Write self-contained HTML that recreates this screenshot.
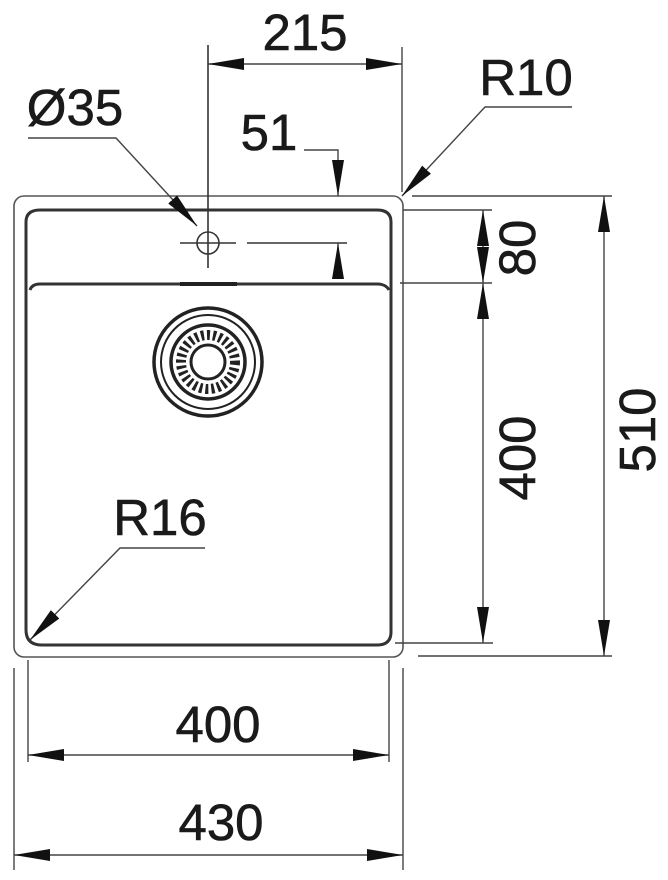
<!DOCTYPE html>
<html><head><meta charset="utf-8"><style>
html,body{margin:0;padding:0;background:#fff;}
svg{display:block;}
text{font-family:"Liberation Sans",sans-serif;fill:#1a1a1a;stroke:#1a1a1a;stroke-width:0.6;}
</style></head><body>
<svg width="668" height="880" viewBox="0 0 668 880" xmlns="http://www.w3.org/2000/svg">
<defs>
<marker id="b" viewBox="0 0 36 12" refX="36" refY="6" markerWidth="36" markerHeight="12" markerUnits="userSpaceOnUse" orient="auto-start-reverse"><path d="M0,0 L36,6 L0,12 z" fill="#111"/></marker>
</defs>
<g stroke="#555" fill="none" stroke-width="1.6">
<rect x="14" y="196" width="389" height="461" rx="10"/>
</g>
<g stroke="#333" fill="none" stroke-width="3">
<path d="M26,222 Q26,210 40,210 L377,210 Q391,210 391,222 L391,632 Q391,645 377,645 L42,645 Q26,645 26,630 Z"/>
<path d="M30,290 Q32,284 40,284 L377,284 Q386,284 389,290"/>
</g>
<rect x="180" y="282" width="57" height="4" fill="#222"/>
<g stroke="#333" fill="none" stroke-width="1.6">
<circle cx="208" cy="243" r="11"/>
<line x1="180" y1="243" x2="236" y2="243"/>
<line x1="208" y1="45" x2="208" y2="268"/>
<line x1="247" y1="243" x2="347" y2="243"/>
</g>
<g stroke="#222" fill="none">
<circle cx="208" cy="362" r="54" stroke-width="3.5"/>
<circle cx="208" cy="362" r="47" stroke-width="2"/>
<circle cx="208" cy="362" r="37" stroke-width="3.5"/>
<circle cx="208" cy="362" r="27" stroke-width="10" stroke-dasharray="3 3"/>
<circle cx="208" cy="362" r="17" stroke-width="3"/>
</g>
<g stroke="#444" fill="none" stroke-width="1.4">
<line x1="402" y1="47" x2="402" y2="192"/>
<line x1="208" y1="64" x2="402" y2="64" marker-start="url(#b)" marker-end="url(#b)"/>
<polyline points="304,150 338,150 338,196" marker-end="url(#b)"/>
<line x1="338" y1="275" x2="338" y2="243" marker-end="url(#b)"/>
<polyline points="572,107 485,107 402,196" marker-end="url(#b)"/>
<polyline points="28,138 116,138 197,226" marker-end="url(#b)"/>
<polyline points="205,548 120,548 30,640" marker-end="url(#b)"/>
<line x1="412" y1="196" x2="612" y2="196"/>
<line x1="403" y1="210" x2="492" y2="210"/>
<line x1="400" y1="283" x2="492" y2="283"/>
<line x1="395" y1="643" x2="493" y2="643"/>
<line x1="418" y1="656" x2="612" y2="656"/>
<line x1="483" y1="210" x2="483" y2="283" marker-start="url(#b)" marker-end="url(#b)"/>
<line x1="483" y1="283" x2="483" y2="643" marker-start="url(#b)" marker-end="url(#b)"/>
<line x1="604" y1="196" x2="604" y2="656" marker-start="url(#b)" marker-end="url(#b)"/>
<line x1="14" y1="668" x2="14" y2="870"/>
<line x1="403" y1="668" x2="403" y2="870"/>
<line x1="28" y1="660" x2="28" y2="762"/>
<line x1="389" y1="660" x2="389" y2="762"/>
<line x1="28" y1="755" x2="389" y2="755" marker-start="url(#b)" marker-end="url(#b)"/>
<line x1="14" y1="855" x2="403" y2="855" marker-start="url(#b)" marker-end="url(#b)"/>
</g>
<g font-size="51">
<text x="305" y="50" text-anchor="middle">215</text>
<text x="526" y="95" text-anchor="middle">R10</text>
<text x="269" y="150" text-anchor="middle">51</text>
<text x="75" y="125" text-anchor="middle">Ø35</text>
<text x="160" y="535" text-anchor="middle">R16</text>
<text x="218" y="742" text-anchor="middle">400</text>
<text x="221" y="840" text-anchor="middle">430</text>
<text transform="translate(535,248) rotate(-90)" text-anchor="middle">80</text>
<text transform="translate(535,458) rotate(-90)" text-anchor="middle">400</text>
<text transform="translate(655,430) rotate(-90)" text-anchor="middle">510</text>
</g>
</svg>
</body></html>
